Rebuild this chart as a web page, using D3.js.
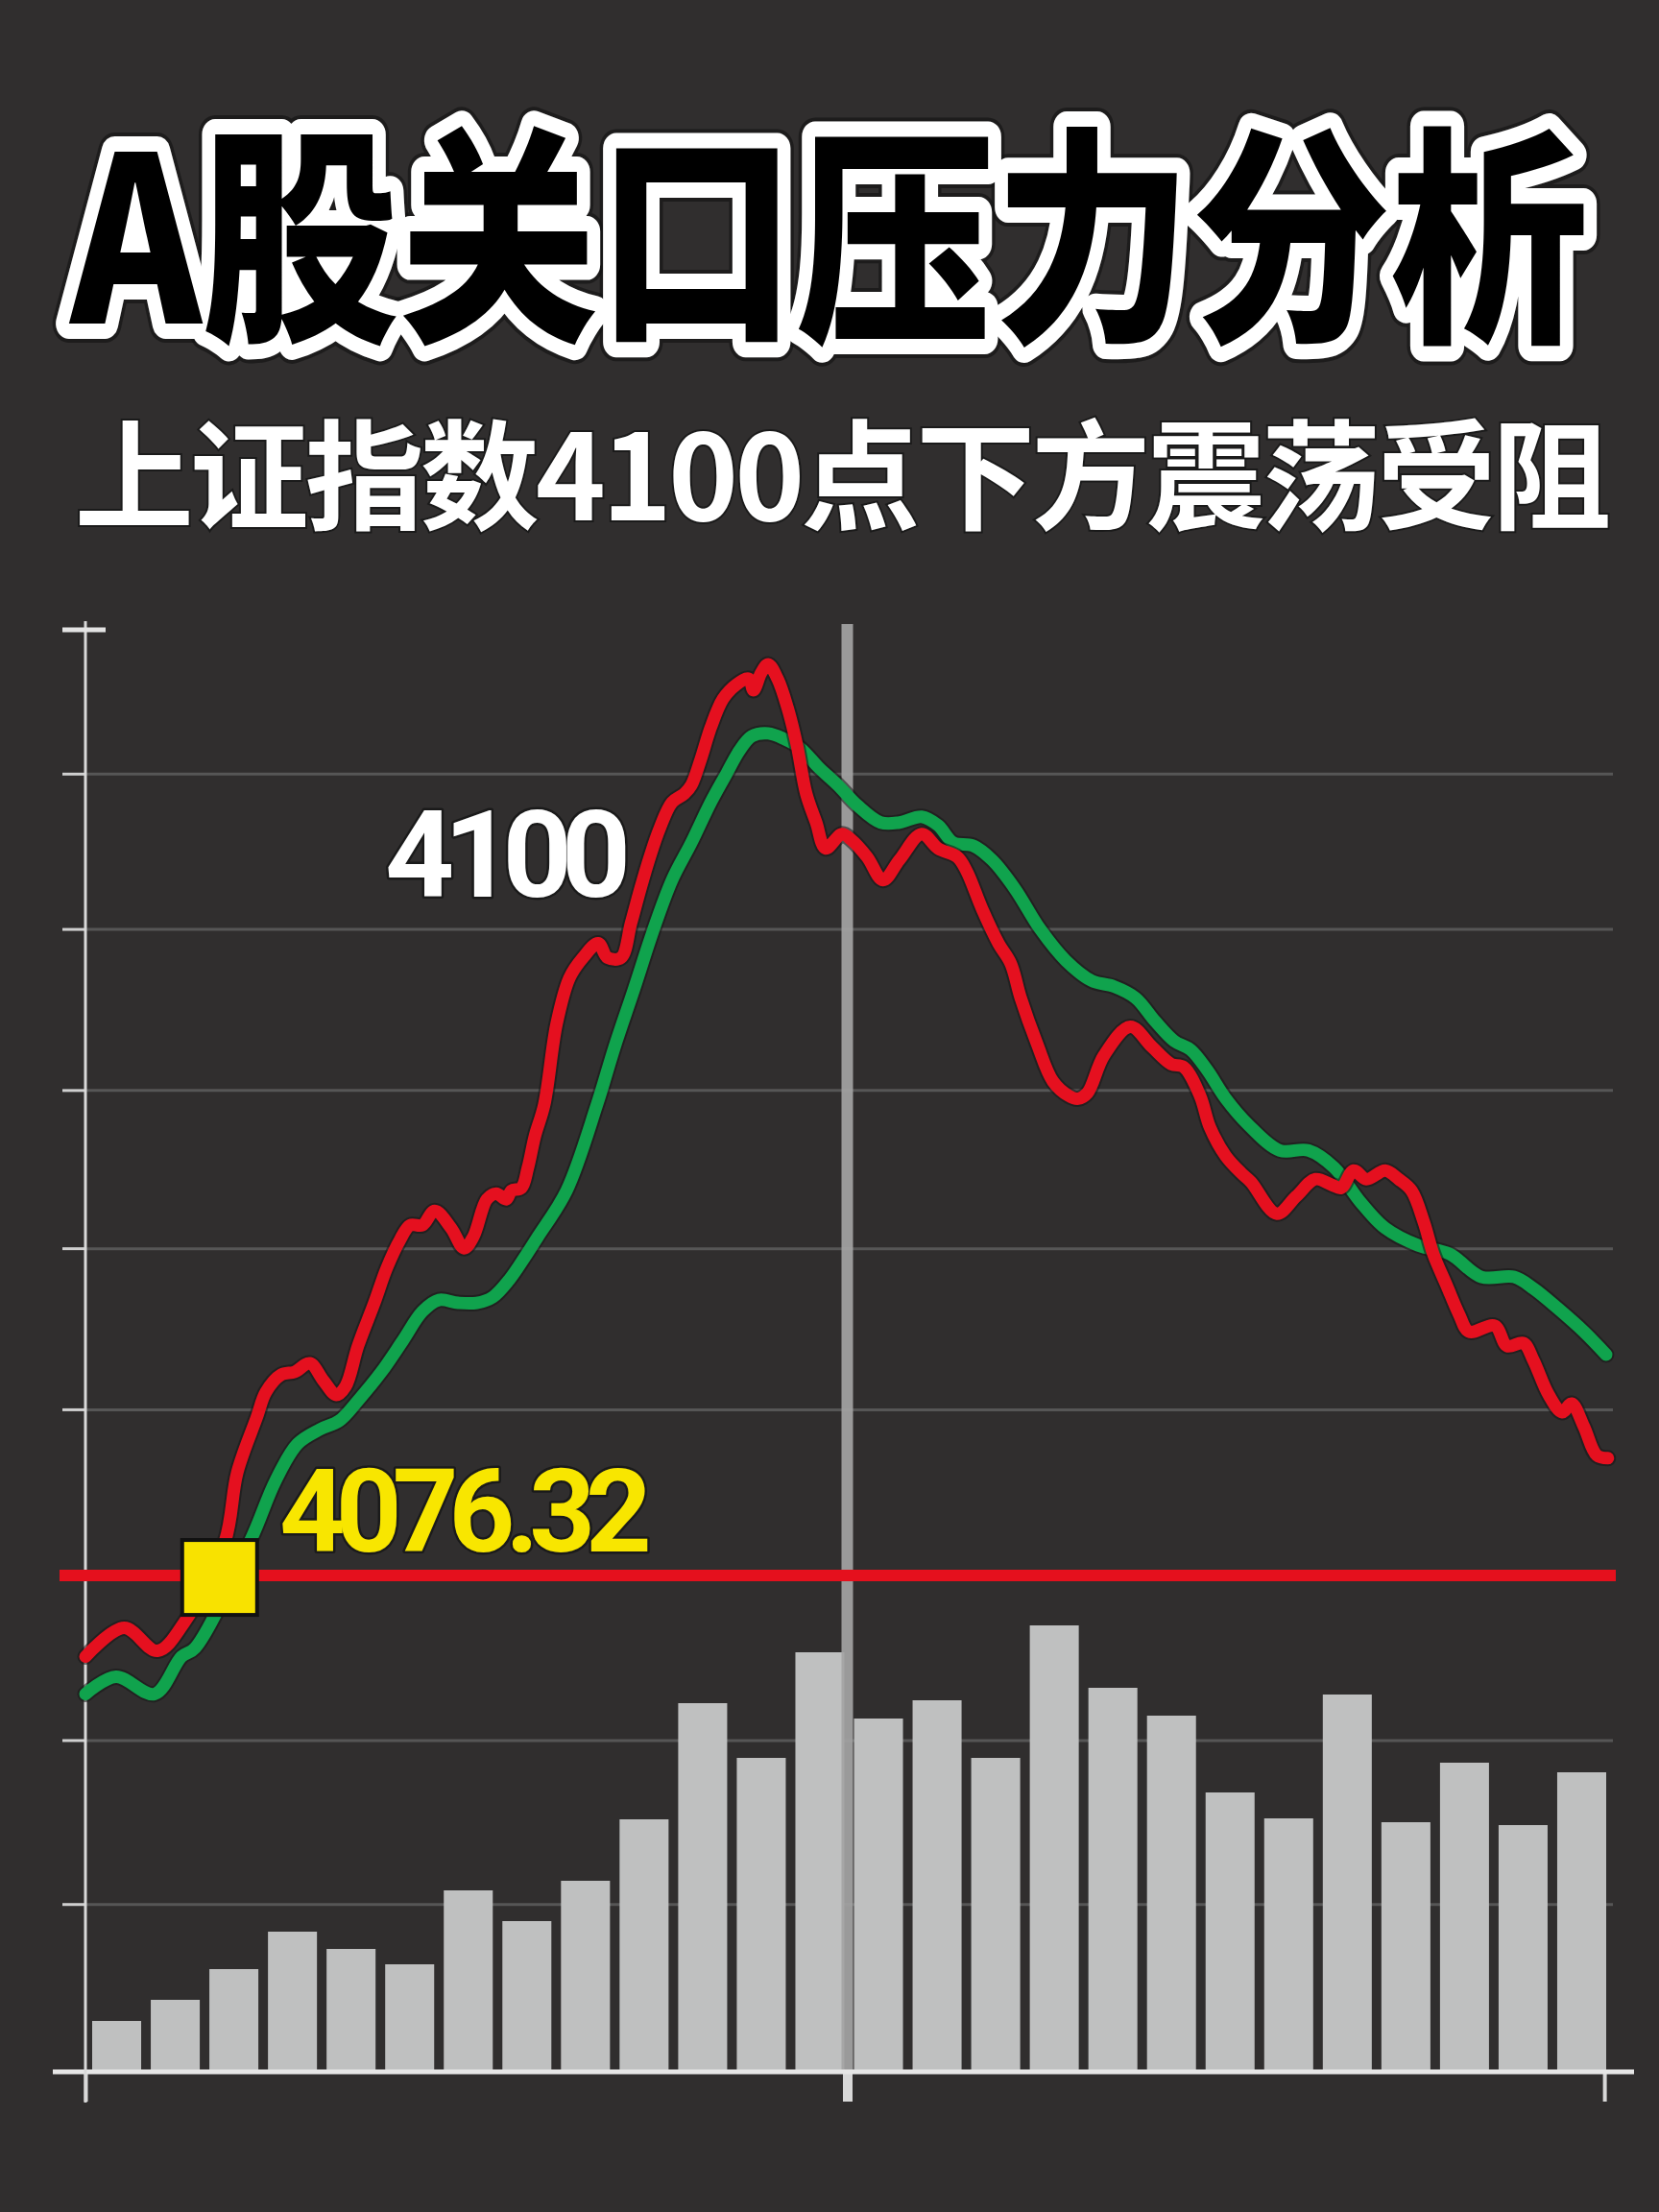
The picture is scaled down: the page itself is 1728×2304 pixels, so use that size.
<!DOCTYPE html>
<html><head><meta charset="utf-8">
<script src="https://cdn.jsdelivr.net/npm/d3@7"></script>
<style>html,body{margin:0;padding:0;background:#302e2e;} svg{display:block}</style>
</head><body>
<svg id="c" width="1728" height="2304"></svg>
<script>
// ---------------- data ----------------
const titleText = "A股关口压力分析";
const subtitleText = "上证指数4100点下方震荡受阻";
const days = [1,2,3,4,5,6,7,8,9,10,11,12,13,14,15,16,17,18,19,20,21,22,23,24,25,26];
const volume = [52,74,106,145,127,111,188,156,198,262,383,326,436,367,386,326,464,399,370,290,263,392,259,321,256,311];
// [day position, index value]
const pricePath = [[0,4073.5],[0.66,4074.5],[1.23,4073.7],[1.69,4074.7],[2.38,4077.5],[2.59,4079.9],[2.92,4081.8],[3.08,4082.7],[3.34,4083.3],[3.57,4083.4],[3.83,4083.7],[4.06,4083.1],[4.28,4082.6],[4.44,4082.9],[4.65,4084.3],[4.93,4085.8],[5.14,4087.0],[5.37,4088.0],[5.54,4088.5],[5.75,4088.5],[5.96,4089.0],[6.24,4088.4],[6.46,4087.7],[6.62,4088.1],[6.85,4089.4],[7.01,4089.6],[7.18,4089.4],[7.27,4089.7],[7.44,4089.8],[7.55,4090.5],[7.67,4091.6],[7.83,4092.7],[8.04,4095.5],[8.26,4097.1],[8.49,4097.8],[8.75,4098.3],[8.91,4097.8],[9.14,4097.8],[9.31,4099.0],[9.47,4100.2],[9.63,4101.3],[9.80,4102.3],[10.01,4103.2],[10.22,4103.5],[10.34,4103.8],[10.50,4104.7],[10.67,4105.8],[10.88,4106.8],[11.11,4107.3],[11.32,4107.5],[11.40,4107.1],[11.53,4107.7],[11.65,4108.0],[11.81,4107.5],[11.98,4106.5],[12.14,4105.2],[12.30,4103.5],[12.47,4102.5],[12.63,4101.6],[12.91,4102.1],[13.07,4101.9],[13.34,4101.3],[13.61,4100.5],[13.89,4101.2],[14.27,4102.1],[14.55,4101.6],[14.88,4101.3],[15.04,4100.8],[15.30,4099.5],[15.58,4098.3],[15.79,4097.6],[15.96,4096.4],[16.24,4094.8],[16.51,4093.5],[16.78,4093.0],[16.94,4092.9],[17.10,4093.1],[17.38,4094.4],[17.83,4095.4],[18.20,4094.7],[18.53,4094.1],[18.74,4094.0],[19.02,4093.0],[19.19,4091.9],[19.46,4090.9],[19.73,4090.3],[19.89,4090.0],[20.33,4088.9],[20.66,4089.5],[20.99,4090.1],[21.27,4089.9],[21.43,4089.8],[21.64,4090.4],[21.86,4090.1],[22.18,4090.4],[22.41,4090.1],[22.63,4089.7],[22.84,4088.6],[23.00,4087.5],[23.23,4086.4],[23.44,4085.4],[23.61,4084.8],[24.05,4085.0],[24.26,4084.3],[24.54,4084.4],[24.71,4083.8],[24.97,4082.6],[25.20,4082.0],[25.36,4082.3],[25.57,4081.5],[25.79,4080.5],[25.98,4080.4]];
const maPath = [[0,4072.2],[0.52,4072.8],[1.18,4072.2],[1.64,4073.5],[1.87,4073.8],[2.83,4077.6],[3.24,4079.6],[3.62,4080.9],[4.00,4081.4],[4.33,4081.7],[4.65,4082.4],[5.05,4083.4],[5.42,4084.5],[5.75,4085.5],[6.03,4085.9],[6.36,4085.8],[6.68,4085.8],[6.95,4086.0],[7.23,4086.6],[7.50,4087.4],[7.72,4088.1],[8.21,4089.7],[8.73,4092.7],[9.03,4094.7],[9.36,4096.7],[9.68,4098.7],[10.01,4100.5],[10.34,4101.8],[10.67,4103.2],[10.94,4104.2],[11.16,4105.0],[11.37,4105.5],[11.65,4105.6],[11.93,4105.4],[12.19,4105.1],[12.52,4104.4],[12.84,4103.8],[13.17,4103.1],[13.57,4102.5],[13.89,4102.5],[14.27,4102.7],[14.55,4102.4],[14.81,4101.8],[15.14,4101.7],[15.47,4101.2],[15.86,4100.2],[16.29,4098.8],[16.73,4097.7],[17.17,4097.0],[17.55,4096.8],[17.92,4096.4],[18.25,4095.6],[18.58,4094.9],[18.86,4094.6],[19.14,4093.9],[19.46,4092.9],[19.84,4092.0],[20.38,4091.1],[20.87,4091.1],[21.31,4090.5],[21.76,4089.3],[22.18,4088.4],[22.74,4087.8],[23.28,4087.5],[23.82,4086.7],[24.38,4086.7],[24.71,4086.3],[25.13,4085.6],[25.57,4084.8],[25.95,4084.0]];
const gridLevels = [4104.2, 4098.8, 4093.2, 4087.7, 4082.1, 4070.6, 4064.9];
const resistanceLevel = 4076.32;
const resistanceLabel = "4076.32";
const peakLabel = "4100";
const crossDay = 2.29;
const markerDay = 13;
const bottomTicks = [0, 13, 25.92];

// ---------------- drawing ----------------
const svg = d3.select("#c");
svg.append("rect").attr("width",1728).attr("height",2304).attr("fill","#302e2e");

const xBand = d3.scaleBand().domain(days).range([91,1678]).paddingInner(0.164).paddingOuter(0.082);
const xTime = d3.scaleLinear().domain([0,26]).range([89,1676]);
const yPrice = d3.scaleLinear().domain([4059.3,4109.2]).range([2151,656]);
const yVol = d3.scaleLinear().domain([0,500]).range([2157,1657]);

// gridlines
const grid = svg.append("g").attr("transform","translate(89,0)")
  .call(d3.axisRight(yPrice).tickValues(gridLevels).tickSize(1680-89).tickFormat(""));
grid.select(".domain").remove();
grid.selectAll("line").attr("stroke","#565656").attr("stroke-width",3);

// left tick marks
const lt = svg.append("g").attr("transform","translate(89,0)")
  .call(d3.axisLeft(yPrice).tickValues(gridLevels).tickSize(24).tickFormat(""));
lt.select(".domain").remove();
lt.selectAll("line").attr("stroke","#cfcfcf").attr("stroke-width",3);

// volume bars
svg.append("g").selectAll("rect").data(volume).join("rect")
  .attr("x",(d,i)=>xBand(days[i]))
  .attr("width",xBand.bandwidth())
  .attr("y",d=>yVol(d))
  .attr("height",d=>yVol(0)-yVol(d))
  .attr("fill","#bfc0c0");

// vertical marker line
svg.append("line")
  .attr("x1",xTime(markerDay)).attr("x2",xTime(markerDay))
  .attr("y1",650).attr("y2",yVol(0))
  .attr("stroke","#a4a4a4").attr("stroke-width",12).attr("opacity",0.92);

// bottom axis
const bx = svg.append("g").attr("transform",`translate(0,${yVol(0)})`)
  .call(d3.axisBottom(xTime).tickValues(bottomTicks).tickSize(32).tickFormat("").tickSizeOuter(0));
bx.select(".domain").remove();
bx.selectAll("line").attr("stroke","#d8d8d8").attr("stroke-width",(d)=>d===markerDay?10:4);
svg.append("line").attr("x1",55).attr("x2",1702).attr("y1",yVol(0)+1).attr("y2",yVol(0)+1)
  .attr("stroke","#e6e6e6").attr("stroke-width",5);

// y axis line + top cap
svg.append("line").attr("x1",89).attr("x2",89).attr("y1",647).attr("y2",2190)
  .attr("stroke","#d9d9d9").attr("stroke-width",3);
svg.append("line").attr("x1",65).attr("x2",110).attr("y1",yPrice(4109.2)).attr("y2",yPrice(4109.2))
  .attr("stroke","#e3e3e3").attr("stroke-width",5);

// resistance line
svg.append("line").attr("x1",62).attr("x2",1683)
  .attr("y1",yPrice(resistanceLevel)).attr("y2",yPrice(resistanceLevel))
  .attr("stroke","#e5101d").attr("stroke-width",12);

const line = d3.line().x(d=>xTime(d[0])).y(d=>yPrice(d[1])).curve(d3.curveCatmullRom.alpha(0.5));

function drawLine(data,color){
  svg.append("path").attr("d",line(data)).attr("fill","none")
    .attr("stroke","#151515").attr("stroke-opacity",0.55).attr("stroke-width",17)
    .attr("stroke-linecap","round").attr("stroke-linejoin","round");
  svg.append("path").attr("d",line(data)).attr("fill","none")
    .attr("stroke",color).attr("stroke-width",13)
    .attr("stroke-linecap","round").attr("stroke-linejoin","round");
}
drawLine(maPath,"#10a34d");
drawLine(pricePath,"#e5101f");

// crossing marker
const cx = xTime(crossDay), cy = yPrice(resistanceLevel);
svg.append("rect").attr("x",cx-39).attr("y",cy-37).attr("width",78).attr("height",78)
  .attr("fill","#f8e200").attr("stroke","#111").attr("stroke-width",4);

// labels
svg.append("text").attr("x",401).attr("y",934).text(peakLabel)
  .attr("font-family","Roboto, 'Open Sans', sans-serif").attr("font-weight",700)
  .attr("font-size",126).attr("letter-spacing",-11)
  .attr("fill","#ffffff").attr("stroke","#1a1a1a").attr("stroke-width",5)
  .attr("paint-order","stroke").attr("stroke-linejoin","round");

svg.append("text").attr("x",291).attr("y",1616).text(resistanceLabel)
  .attr("font-family","Roboto, 'Open Sans', sans-serif").attr("font-weight",700)
  .attr("font-size",120).attr("letter-spacing",-10)
  .attr("fill","#f8e600").attr("stroke","#1a1a1a").attr("stroke-width",5)
  .attr("paint-order","stroke").attr("stroke-linejoin","round");

// title
const tg = svg.append("g").attr("transform","translate(864,337) scale(0.86,1)");
tg.append("text").text(titleText).attr("text-anchor","middle")
  .attr("font-family","'Noto Sans CJK SC', sans-serif").attr("font-weight",900).attr("font-size",240)
  .attr("fill","#000").attr("stroke","#111").attr("stroke-width",40).attr("stroke-opacity",0.6)
  .attr("stroke-linejoin","round");
tg.append("text").text(titleText).attr("text-anchor","middle")
  .attr("font-family","'Noto Sans CJK SC', sans-serif").attr("font-weight",900).attr("font-size",240)
  .attr("fill","#000").attr("stroke","#fff").attr("stroke-width",32)
  .attr("paint-order","stroke").attr("stroke-linejoin","round");

// subtitle
svg.append("text").attr("x",876).attr("y",542).text(subtitleText).attr("text-anchor","middle")
  .attr("font-family","'Noto Sans CJK SC', sans-serif").attr("font-weight",700).attr("font-size",124)
  .attr("letter-spacing",-4)
  .attr("fill","#fff").attr("stroke","#1a1a1a").attr("stroke-width",4).attr("paint-order","stroke");
</script>
</body></html>
